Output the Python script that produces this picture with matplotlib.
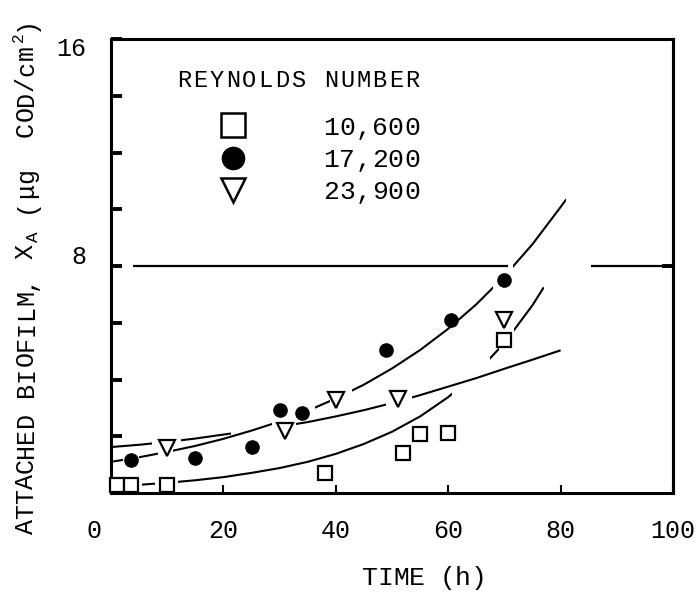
import matplotlib
matplotlib.use("Agg")
import numpy as np
import matplotlib.pyplot as plt
import matplotlib.transforms as mtransforms
from matplotlib.patches import Rectangle

plt.rcParams["font.family"] = ["Liberation Mono", "DejaVu Sans Mono"]

# measured attached biofilm (ug COD/cm2) vs time (h), one series per Reynolds number
re_labels = ["10,600", "17,200", "23,900"]

t_10600 = [1, 3.5, 10, 38, 52, 55, 60, 70]
xa_10600 = [0.3, 0.3, 0.3, 0.7, 1.41, 2.08, 2.11, 5.4]

t_17200 = [3.5, 15, 25, 30, 34, 49, 60.5, 70]
xa_17200 = [1.16, 1.23, 1.62, 2.92, 2.82, 5.03, 6.09, 7.5]

t_23900 = [10, 31, 40, 51, 70]
xa_23900 = [1.6, 2.18, 3.27, 3.3, 6.11]

# hand-drawn fitted curves, read every 5 h
fit_t_10600 = [0, 5, 10, 15, 20, 25, 30, 35, 40, 45, 50, 55, 60, 65, 70, 75, 77]
fit_xa_10600 = [0.23, 0.29, 0.36, 0.45, 0.56, 0.71, 0.88, 1.10, 1.38, 1.73,
                2.16, 2.70, 3.38, 4.23, 5.29, 6.62, 7.25]
fit_t_17200 = [0, 5, 10, 15, 20, 25, 30, 35, 40, 45, 50, 55, 60, 65, 70, 75, 80, 81]
fit_xa_17200 = [1.10, 1.26, 1.45, 1.66, 1.91, 2.20, 2.52, 2.90, 3.33, 3.82,
                4.39, 5.04, 5.79, 6.65, 7.64, 8.77, 10.08, 10.35]
fit_t_23900 = [0, 5, 10, 15, 20, 25, 30, 35, 40, 45, 50, 55, 60, 65, 70, 75, 80]
fit_xa_23900 = [1.62, 1.70, 1.80, 1.92, 2.06, 2.20, 2.34, 2.50, 2.70, 2.92,
                3.17, 3.45, 3.75, 4.05, 4.38, 4.70, 5.03]

# pen-down stretches of each curve (the pen is lifted at markers and crossings)
pen_10600 = [(5.5, 7.8), (11.9, 60.7), (67.4, 69.0), (71.7, 77)]
pen_17200 = [(0, 2.1), (5.0, 8.4), (11.0, 28.6), (36.3, 39.0), (42.9, 68.0), (71.5, 81)]
pen_23900 = [(0, 7.3), (12.5, 21.4), (33.0, 49.0), (53.5, 80)]

ref_level = 8
ref_pen = [(3.9, 70.6), (85.4, 100)]

W, H = 697, 593
fig = plt.figure(figsize=(W / 100, H / 100), dpi=100)
ax = fig.add_axes([0.1593, 0.1686, 0.8063, 0.7656])
PT = 72 / fig.dpi  # points per pixel


def draw_pen(xs, ys, spans, **kw):
    for x0, x1 in spans:
        ln, = ax.plot(xs, ys, **kw)
        ln.set_clip_path(Rectangle((x0, -5), x1 - x0, 30, transform=ax.transData))


def plain(s):
    return [(c, 1.0, 0.0, 1.0) for c in s]


def typed(x_px, y_px, cells, pitch_px, size, rotation=0):
    """Typewriter-style text: one glyph per fixed-pitch cell.
    x_px, y_px = centre/baseline of the first cell in image pixels."""
    ang = np.radians(rotation)
    ux, uy = np.cos(ang), np.sin(ang)
    nx, ny = -np.sin(ang), np.cos(ang)
    pos = 0.0
    for ch, scale, rise, adv in cells:
        if ch != " ":
            dx = (pos * pitch_px * ux + rise * nx) * PT
            dy = (pos * pitch_px * uy + rise * ny) * PT
            tr = mtransforms.offset_copy(fig.transFigure, fig=fig, x=dx, y=dy, units="points")
            fig.text(x_px / W, 1 - y_px / H, ch, transform=tr, fontsize=size * scale,
                     rotation=rotation, rotation_mode="anchor",
                     ha="center", va="baseline")
        pos += adv


line_kw = dict(color="black", lw=1.5, solid_capstyle="butt")
draw_pen(fit_t_10600, fit_xa_10600, pen_10600, **line_kw)
draw_pen(fit_t_17200, fit_xa_17200, pen_17200, **line_kw)
draw_pen(fit_t_23900, fit_xa_23900, pen_23900, **line_kw)
draw_pen([0, 100], [ref_level, ref_level], ref_pen, color="black", lw=1.6)

ax.plot(t_10600, xa_10600, ls="none", marker="s", ms=10.5, mfc="white",
        mec="black", mew=1.6, clip_on=False, zorder=5)
ax.plot(t_17200, xa_17200, ls="none", marker="o", ms=9.5, mfc="black",
        mec="black", zorder=5)
ax.plot(t_23900, xa_23900, ls="none", marker="v", ms=11.5, mfc="white",
        mec="black", mew=1.6, zorder=5)

# key block in the upper left
typed(184, 87, plain("REYNOLDS NUMBER"), 16.3, 17)
key_y = [0.8106, 0.7379, 0.6674]
key_base = [135, 167, 199]
key_style = [dict(marker="s", ms=17, mfc="white", mec="black", mew=1.8),
             dict(marker="o", ms=16, mfc="black", mec="black"),
             dict(marker="v", ms=17, mfc="white", mec="black", mew=1.8)]
for yk, yb, lab, st in zip(key_y, key_base, re_labels, key_style):
    ax.plot([0.217], [yk], transform=ax.transAxes, ls="none", **st)
    typed(331, yb, plain(lab), 16.2, 19)

ax.set_xlim(0, 100)
ax.set_ylim(0, 16)
ax.set_xticks([0, 20, 40, 60, 80, 100])
ax.set_xticklabels(["0", "20", "40", "60", "80", "100"])
ax.set_yticks([0, 2, 4, 6, 8, 10, 12, 14, 16])
ax.set_yticklabels(["", "", "", "", "8", "", "", "", "16"])

ax.tick_params(axis="x", direction="in", length=6, width=1.5, pad=19, labelsize=18)
ax.tick_params(axis="y", direction="in", length=8, width=2.8, pad=18, labelsize=18)

# hand-placed labels: "0" sits left of the corner, "8" a little high, "16" a little low
def nudge(label, dx_px, dy_px):
    off = mtransforms.ScaledTranslation(dx_px / fig.dpi, dy_px / fig.dpi, fig.dpi_scale_trans)
    label.set_transform(label.get_transform() + off)

nudge(ax.get_xticklabels()[0], -17, 0)
nudge(ax.get_yticklabels()[4], 0, 12)
nudge(ax.get_yticklabels()[8], 0, -7)

sec = ax.secondary_yaxis("right")
sec.set_yticks([ref_level])
sec.tick_params(direction="in", length=8, width=2.8, labelright=False)
sec.spines["right"].set_linewidth(2.2)

for s in ax.spines.values():
    s.set_linewidth(2.2)

# axis titles, typed along the axes
typed(370, 585, plain("TIME (h)"), 15.5, 19)
ylab = (plain("ATTACHED BIOFILM, X") + [("A", 0.7, -5, 1.0)]
        + plain(" (\u03bcg  COD/cm") + [("2", 0.65, 10, 0.9)] + plain(")"))
typed(33, 527, ylab, 15.3, 18, rotation=90)

fig.savefig("out.png", dpi=100)
